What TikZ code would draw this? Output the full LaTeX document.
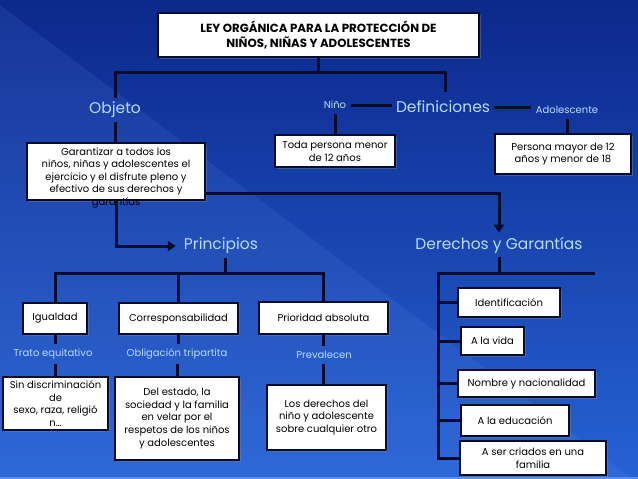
\documentclass[tikz,border=0pt]{standalone}
\usepackage{fontspec}
\setmainfont{Poppins}
\usetikzlibrary{arrows.meta,calc,shadows}
\definecolor{bgtop}{RGB}{12,40,140}
\definecolor{bgmid}{RGB}{12,56,176}
\definecolor{bgbot}{RGB}{38,98,212}
\definecolor{bglite}{RGB}{120,170,255}
\definecolor{lbl}{RGB}{185,218,255}
\definecolor{ink}{RGB}{5,12,45}
\begin{document}
\begin{tikzpicture}[x=1pt,y=-1pt,
  box/.style={draw=ink,line width=1.6pt,fill=white,inner sep=2pt,align=center,
    font=\fontsize{10}{12.7}\selectfont,text=black,
    drop shadow={opacity=0.45,shadow xshift=1.5pt,shadow yshift=-1.5pt}},
  boxtext/.style={align=center,font=\fontsize{10}{12.5}\selectfont,text=black,inner sep=0pt},
  big/.style={text=lbl,font=\fontsize{15.5}{18}\selectfont,inner sep=4pt},
  small/.style={text=lbl,font=\fontsize{10}{12}\selectfont,inner sep=5pt},
  conn/.style={draw=ink,line width=3pt},
  arr/.style={conn,-{Triangle[width=10pt,length=8pt]}}]
% background
\shade[top color=bgtop,middle color=bgmid,bottom color=bgbot] (0,0) rectangle (638,479);
\useasboundingbox (0,0) rectangle (638,479);
\fill[bglite,opacity=0.10] (0,5) -- (638,483) -- (0,479) -- cycle;
\fill[bglite,opacity=0.6] (0,477) rectangle (638,479);

% title
\node[box,minimum width=321pt,minimum height=44pt,
  font=\bfseries\fontsize{11.8}{15.5}\selectfont] (title) at (318.5,35)
  {LEY ORGÁNICA PARA LA PROTECCIÓN DE\\NIÑOS, NIÑAS Y ADOLESCENTES};

% labels
\node[big] (objeto) at (115,110) {Objeto};
\node[big] (defin) at (443,107) {Definiciones};
\node[small] (nino) at (335,105) {Niño};
\node[small] (adol) at (567,110) {Adolescente};
\node[big] (princ) at (221,246) {Principios};
\node[big] (derech) at (499,245) {Derechos y Garantías};
\node[small] (trato) at (53,354) {Trato equitativo};
\node[small] (oblig) at (177,354) {Obligación tripartita};
\node[small] (preval) at (324,355) {Prevalecen};

% boxes
\node[box,minimum width=178pt,minimum height=57pt] (objbox) at (116,171.5) {};
\node[boxtext] (objtext) at (116,178) {Garantizar a todos los\\niños, niñas y adolescentes el\\ejercicio y el disfrute pleno y\\efectivo de sus derechos y\\garantías};
\node[box,minimum width=120pt,minimum height=32pt] (ninobox) at (335,151) {Toda persona menor\\de 12 años};
\node[box,minimum width=136pt,minimum height=40pt] (adolbox) at (563,154) {Persona mayor de 12\\años y menor de 18};

\node[box,minimum width=64pt,minimum height=31pt] (igual) at (55,318.5) {Igualdad};
\node[box,minimum width=119pt,minimum height=31pt] (corresp) at (178.5,318.5) {Corresponsabilidad};
\node[box,minimum width=129pt,minimum height=32pt] (prio) at (323.5,318) {Prioridad absoluta};

\node[box,minimum width=105pt,minimum height=53pt] (sindisc) at (55.5,403.5) {Sin discriminación\\de\\sexo, raza, religió\\n…};
\node[box,minimum width=124pt,minimum height=83pt] (delest) at (177,418.5) {Del estado, la\\sociedad y la familia\\en velar por el\\respetos de los niños\\y adolescentes};
\node[box,minimum width=119pt,minimum height=65pt] (losder) at (326.5,417.5) {Los derechos del\\niño y adolescente\\sobre cualquier otro};

\node[box,minimum width=102pt,minimum height=29pt] (ident) at (509,302.5) {Identificación};
\node[box,minimum width=63pt,minimum height=28pt] (vida) at (492.5,341) {A la vida};
\node[box,minimum width=137pt,minimum height=27pt] (nombre) at (526.5,383.5) {Nombre y nacionalidad};
\node[box,minimum width=108pt,minimum height=31pt] (educ) at (515,420.5) {A la educación};
\node[box,minimum width=146pt,minimum height=34pt] (criados) at (533,458) {A ser criados en una\\familia};

% connectors
\coordinate (busL) at (115,72);
\coordinate (busR) at (445,72);
\draw[conn] (title.south) -- (title.south |- busL);
\draw[conn,line join=miter] (objeto.north) -- (busL) -- (busR) -- ([yshift=5pt]defin.north -| busR);
\draw[conn] (objeto.south) -- (objbox.north -| objeto.south);
\draw[conn] (nino.east) -- (nino.east -| defin.west);
\draw[conn] (defin.east) -- (defin.east -| adol.west);
\draw[conn] (nino.south) -- (ninobox.north -| nino.south);
\draw[conn] (adol.south) -- (adolbox.north -| adol.south);

\draw[arr,line join=miter] (objbox.south) |- ([xshift=-4pt]princ.west);
\draw[arr,line join=miter] ([yshift=7pt]objbox.south east) -| (derech.north);

\coordinate (pbus) at (225,273);
\draw[conn] (princ.south -| pbus) -- (pbus);
\draw[conn,line join=miter] (igual.north) -- (igual.north |- pbus) -- (prio.north |- pbus) -- (prio.north);
\draw[conn] (corresp.north |- pbus) -- (corresp.north);

\draw[conn] (igual.south) -- (igual.south |- trato.north);
\draw[conn] (sindisc.north |- trato.south) -- (sindisc.north);
\draw[conn] (corresp.south) -- (corresp.south |- oblig.north);
\draw[conn] (delest.north |- oblig.south) -- (delest.north);
\draw[conn] (prio.south) -- (prio.south |- preval.north);
\draw[conn] (losder.north -| prio.south) |- (preval.south -| prio.south);

\coordinate (dtop) at (438,273);
\coordinate (dend) at (595,273);
\draw[conn] (derech.south) -- (derech.south |- dtop);
\draw[conn,line join=miter] (dend) -- (dtop) |- (criados.west);
\draw[conn] (dtop |- ident.west) -- (ident.west);
\draw[conn] (dtop |- vida.west) -- (vida.west);
\draw[conn] (dtop |- nombre.west) -- (nombre.west);
\draw[conn] (dtop |- educ.west) -- (educ.west);
\end{tikzpicture}
\end{document}
